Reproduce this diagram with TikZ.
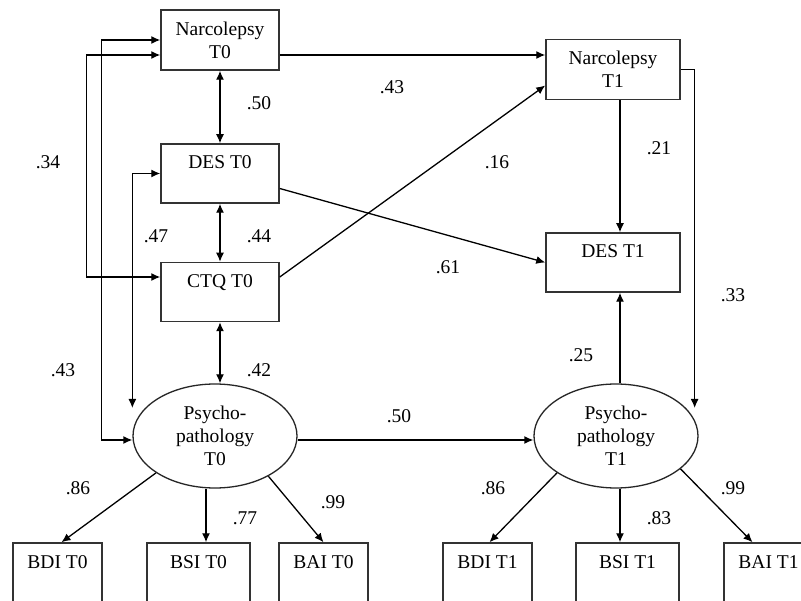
\documentclass[tikz,border=0pt]{standalone}
\usepackage{fontspec}
\setmainfont{Liberation Serif}
\usetikzlibrary{arrows.meta,shapes.geometric}

\begin{document}
\begin{tikzpicture}[x=1pt,y=-1pt,font=\fontsize{19.5}{23}\selectfont,
  >={Latex[length=9pt,width=8pt]},line width=1.3pt]
\tikzstyle{box}=[draw=black!80,line width=1.5pt,inner sep=0pt,align=center]
\tikzstyle{twobox}=[box,minimum height=60pt]
\tikzstyle{onebox}=[box,text height=25pt,text depth=34pt]
\tikzstyle{latent}=[draw=black!85,line width=1.3pt,ellipse,inner sep=0pt,
  minimum width=164pt,minimum height=104pt,align=center]
\tikzstyle{coef}=[inner sep=0pt]
\useasboundingbox[fill=white] (0,0) rectangle (801,601);

\node[twobox,minimum width=118pt] (n0) at (220,40) {Narcolepsy\\T0};
\node[onebox,minimum width=118pt] (d0) at (220,173.5) {DES T0};
\node[onebox,minimum width=118pt] (c0) at (220,292) {CTQ T0};
\node[latent] (p0) at (215,436) {Psycho-\\pathology\\T0};
\node[twobox,minimum width=134pt] (n1) at (613,69.5) {Narcolepsy\\T1};
\node[onebox,minimum width=134pt] (d1) at (613,262.5) {DES T1};
\node[latent] (p1) at (616,436) {Psycho-\\pathology\\T1};
\foreach \nm/\x/\w/\t in {bdi0/57.5/89/BDI T0,bsi0/198.5/103/BSI T0,bai0/323.5/89/BAI T0,
  bdi1/487.5/89/BDI T1,bsi1/627.5/103/BSI T1,bai1/768.5/89/BAI T1}
  \node[onebox,minimum width=\w pt] (\nm) at (\x,572.5) {\t};

% T0 block
\draw[<->] (n0) -- (d0);
\draw[<->] (d0) -- (c0);
\draw[<->] (c0.south) -- (c0.south |- p0.north);
\draw[<->] ([yshift=-4pt]p0.west) -- ++(-31,0) |- (n0.west);
\draw[<->] ([yshift=15pt]c0.west) -- ++(-74,0) |- ([yshift=-15pt]n0.west);
\draw[<->] (d0.west) -| ([yshift=28pt]p0.west);

% T0 -> T1
\draw[->] ([yshift=-15pt]n0.east) -- ([yshift=-15pt]n0.east -| n1.west);
\draw[->] ([yshift=-15pt]d0.east) -- (d1.west);
\draw[->] ([yshift=15pt]c0.east) -- ([yshift=-16pt]n1.west);
\draw[->] ([yshift=-4pt]p0.east) -- ([yshift=-4pt]p1.west);

% T1 block
\draw[->] ([xshift=7pt]n1.south) -- ([xshift=7pt]d1.north);
\draw[->] (n1.east) -| ([xshift=-4pt,yshift=28pt]p1.east);
\draw[->] ([xshift=4pt]p1.north) -- ([xshift=7pt]d1.south);

% indicators
\draw[->] (p0.212) -- ([xshift=4pt]bdi0.north);
\draw[->] ([xshift=-9pt]p0.south) -- ([xshift=-9pt]p0.south |- bsi0.north);
\draw[->] (p0.323) -- (bai0.north);
\draw[->] (p1.212) -- ([xshift=2pt]bdi1.north);
\draw[->] ([xshift=4pt]p1.south) -- ([xshift=4pt]p1.south |- bsi1.north);
\draw[->] (p1.333) -- ([xshift=-16pt]bai1.north);

\node[coef] (nd0) at (259,103) {.50};
\node[coef] (dc0) at (259,236) {.44};
\node[coef] (cp0) at (259,370) {.42};
\node[coef] (np0) at (63,370) {.43};
\node[coef] (nc0) at (48,162) {.34};
\node[coef] (dp0) at (156,236) {.47};
\node[coef] (nn) at (392,87) {.43};
\node[coef] (cn) at (497,162) {.16};
\node[coef] (dd) at (448,267) {.61};
\node[coef] (pp) at (399,416) {.50};
\node[coef] (nd1) at (659,148) {.21};
\node[coef] (np1) at (733,295) {.33};
\node[coef] (pd1) at (581,355) {.25};
\node[coef] (bdi0l) at (78,488) {.86};
\node[coef] (bsi0l) at (245,518) {.77};
\node[coef] (bai0l) at (333,502) {.99};
\node[coef] (bdi1l) at (493,488) {.86};
\node[coef] (bsi1l) at (659,518) {.83};
\node[coef] (bai1l) at (733,488) {.99};
\end{tikzpicture}
\end{document}
